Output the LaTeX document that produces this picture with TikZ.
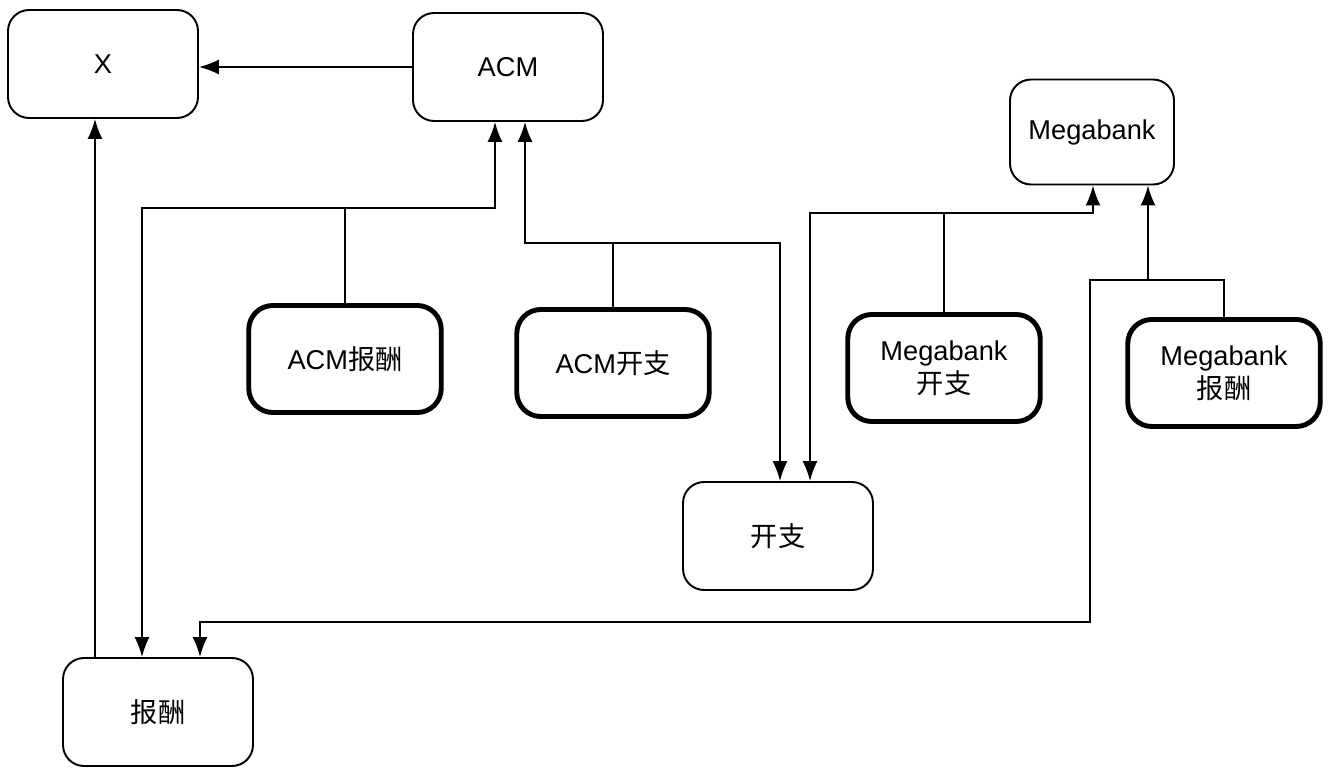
\documentclass[tikz,border=0pt]{standalone}
\usepackage{fontspec}
\setmainfont{Liberation Sans}
\newfontfamily\cjk{Noto Sans CJK SC}
\usetikzlibrary{arrows.meta}

\begin{document}
\begin{tikzpicture}[x=0.02cm,y=-0.02cm,
    font=\fontsize{15.5}{19}\selectfont,
    box/.style={draw,line width=1.1pt,rounded corners=0.42cm,align=center,
      minimum width=3.8cm,minimum height=2.16cm},
    thickbox/.style={box,line width=2.8pt,rounded corners=0.48cm,
      minimum width=3.85cm,minimum height=2.14cm},
    link/.style={line width=1pt},
    both/.style={link,{Latex[length=0.4cm,width=0.3cm]}-{Latex[length=0.4cm,width=0.3cm]}},
    arr/.style={link,-{Latex[length=0.4cm,width=0.3cm]}}]
  \useasboundingbox (0,0) rectangle (1335,774);

  % the boxes
  \node[box] (x)   at (103,64)  {X};
  \node[box] (acm) at (508,67)  {ACM};
  \node[box,minimum width=3.28cm,minimum height=2.1cm] (mb) at (1092,132) {Megabank};
  \node[thickbox] (acmpay) at (345,359) {ACM{\cjk 报酬}};
  \node[thickbox] (acmexp) at (613,363) {ACM{\cjk 开支}};
  \node[thickbox] (mbexp)  at (944,368) {Megabank\\{\cjk 开支}};
  \node[thickbox] (mbpay)  at (1224,373) {Megabank\\{\cjk 报酬}};
  \node[box] (exp) at (778,536) {\cjk 开支};
  \node[box] (pay) at (158,712) {\cjk 报酬};

  % bends of the lines
  \coordinate (a1) at (95,0);
  \coordinate (b1) at (142,208);  \coordinate (b2) at (495,208);
  \coordinate (b3) at (525,243);  \coordinate (b4) at (780,243);
  \coordinate (b5) at (810,213);  \coordinate (b6) at (1093,213);
  \coordinate (b7) at (1090,280); \coordinate (b8) at (1148,280);
  \coordinate (b9) at (200,622);

  \draw[arr] (acm.west) -- (acm.west -| x.east);
  \draw[arr] (a1 |- pay.north) -- (a1 |- x.south);

  \draw[link] (acmpay.north) -- (acmpay.north |- b1);
  \draw[both] (b2 |- acm.south) -- (b2) -- (b1) -- (b1 |- pay.north);

  \draw[link] (acmexp.north) -- (acmexp.north |- b3);
  \draw[both] (b3 |- acm.south) -- (b3) -- (b4) -- (b4 |- exp.north);

  \draw[link] (mbexp.north) -- (mbexp.north |- b5);
  \draw[both] (b6 |- mb.south) -- (b6) -- (b5) -- (b5 |- exp.north);

  \draw[link] (mbpay.north) -- (mbpay.north |- b7) -- (b8);
  \draw[both] (b8 |- mb.south) -- (b8) -- (b7) -- (b7 |- b9) -- (b9) -- (b9 |- pay.north);
\end{tikzpicture}
\end{document}
